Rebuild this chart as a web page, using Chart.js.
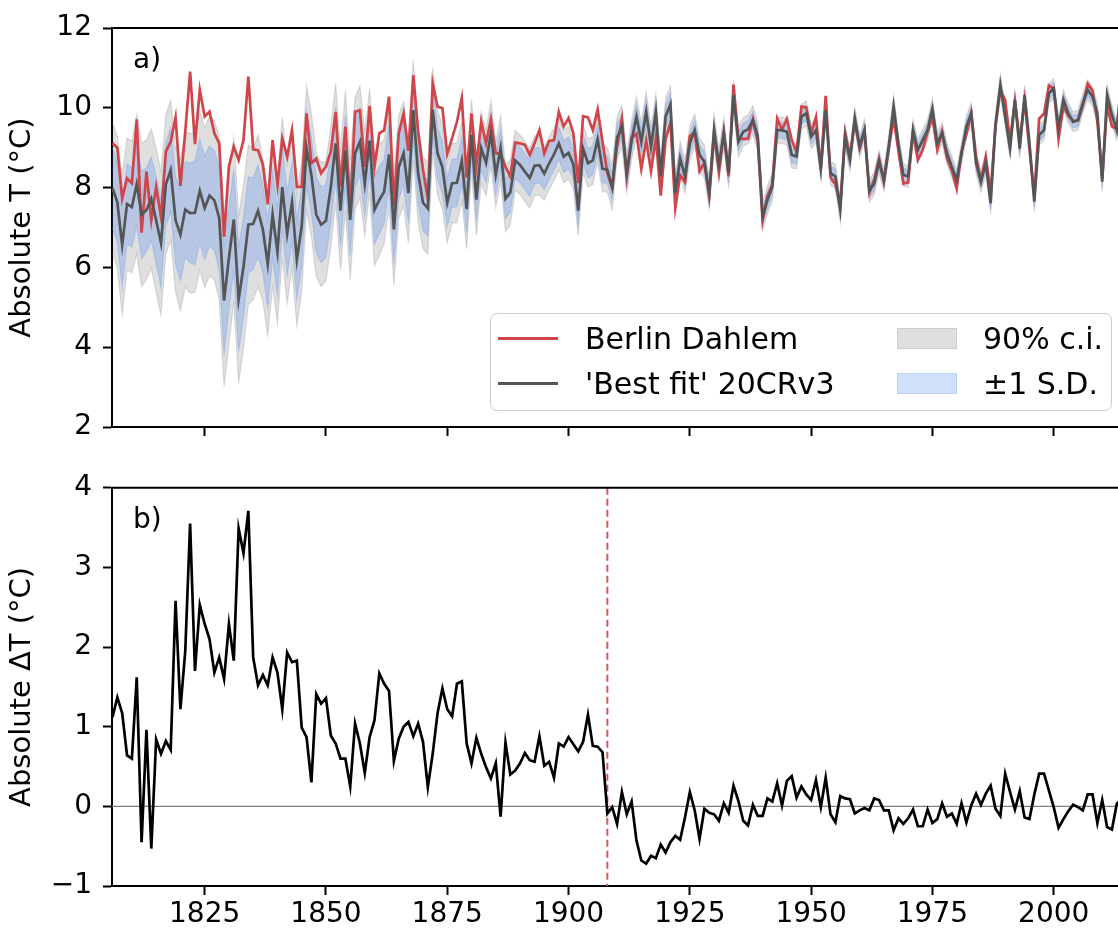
<!DOCTYPE html>
<html>
<head>
<meta charset="utf-8">
<script src="https://cdn.jsdelivr.net/npm/chart.js@4.4.0/dist/chart.umd.min.js"></script>
<style>
  html, body { margin: 0; padding: 0; background: #fff; }
  body { width: 1118px; height: 933px; position: relative; overflow: hidden; font-family: "DejaVu Sans", sans-serif; }
  .panel { position: absolute; left: 0; }
  #topWrap { top: 0; }
  #bottomWrap { top: 460px; }
  #legend {
    position: absolute; left: 490px; top: 313px; width: 622px; height: 98px;
    box-sizing: border-box; border: 1.5px solid #cccccc; border-radius: 7px;
    background: rgba(255, 255, 255, 0.8);
  }
  #legend .hline { position: absolute; left: 7px; width: 60px; height: 2.5px; }
  #legend .patch { position: absolute; left: 406px; width: 60px; height: 21px; box-sizing: border-box; border: 1.5px solid; }
  #legend .ltext { position: absolute; font-size: 30px; line-height: 34px; color: #000; white-space: nowrap; }
</style>
</head>
<body>
<div class="panel" id="topWrap"><canvas id="topChart" width="1118" height="460"></canvas></div>
<div class="panel" id="bottomWrap"><canvas id="bottomChart" width="1118" height="473"></canvas></div>
<div id="legend">
  <span class="hline" style="top:23px; background:#d0454a"></span>
  <span class="ltext" style="left:94px; top:8px">Berlin Dahlem</span>
  <span class="hline" style="top:68px; background:#555555"></span>
  <span class="ltext" style="left:94px; top:53px">'Best fit' 20CRv3</span>
  <span class="patch" style="top:14px; background:rgba(128,128,128,0.25); border-color:rgba(128,128,128,0.2)"></span>
  <span class="ltext" style="left:492px; top:8px">90% c.i.</span>
  <span class="patch" style="top:59px; background:rgba(100,149,237,0.3); border-color:rgba(100,149,237,0.2)"></span>
  <span class="ltext" style="left:492px; top:53px">±1 S.D.</span>
</div>
<script>
// annual means, one value per year starting at firstYear
const firstYear = 1806;

// Berlin Dahlem station (°C)
const berlin = [
  9.11, 9.00, 7.73, 8.23,
  8.11, 9.71, 6.87, 8.40, 7.19, 8.02, 7.27, 8.90, 9.15, 9.76,
  8.04, 9.40, 10.91, 9.09, 10.45, 9.78, 9.90, 9.36, 9.11, 6.77,
  8.53, 9.03, 8.69, 9.19, 10.78, 8.96, 8.94, 8.57, 7.58, 9.19,
  8.07, 9.23, 8.77, 9.44, 8.02, 8.02, 9.86, 8.61, 8.73, 8.36,
  8.53, 8.90, 9.90, 8.02, 9.53, 7.44, 9.90, 9.94, 8.52, 10.05,
  8.52, 9.36, 9.44, 10.28, 7.55, 9.36, 9.86, 8.92, 10.82, 9.40,
  8.45, 7.72, 10.61, 10.03, 9.99, 8.84, 9.24, 9.65, 10.24, 8.25,
  9.86, 8.56, 9.65, 9.11, 9.71, 8.86, 8.86, 8.52, 8.28, 9.13,
  9.11, 9.07, 8.82, 9.11, 9.44, 8.86, 9.17, 9.19, 9.90, 9.53,
  9.74, 9.36, 8.11, 9.79, 9.76, 9.44, 9.96, 9.15, 8.36, 7.99,
  9.03, 9.71, 8.26, 9.25, 9.35, 8.47, 9.18, 8.41, 9.25, 7.80,
  9.20, 9.64, 7.49, 8.31, 8.14, 9.29, 9.39, 8.41, 8.62, 7.78,
  9.34, 8.39, 9.40, 8.28, 10.58, 9.22, 9.22, 9.22, 9.71, 9.16,
  7.17, 7.79, 8.08, 9.73, 9.45, 9.72, 9.20, 8.89, 10.03, 10.01,
  9.36, 9.77, 8.47, 10.30, 8.26, 8.08, 7.57, 9.38, 8.78, 9.65,
  8.98, 9.42, 7.87, 8.20, 8.73, 8.14, 8.98, 9.73, 8.92, 8.10,
  8.13, 9.40, 8.69, 8.94, 9.40, 9.76, 8.95, 9.40, 8.73, 8.43,
  7.97, 8.90, 9.33, 9.87, 8.77, 8.17, 8.77, 7.87, 9.54, 10.45,
  10.19, 9.16, 10.16, 9.17, 10.18, 8.95, 7.80, 9.73, 9.85, 10.56,
  10.48, 9.22, 10.04, 9.80, 9.67, 9.68, 10.06, 10.60, 10.43, 9.65,
  8.23, 10.06, 9.53, 9.47, 10.70
];

// 'Best fit' 20CRv3 (°C)
const bestFit = [
  7.99, 7.63, 6.56, 7.59,
  7.51, 8.09, 7.32, 7.44, 7.72, 7.18, 6.61, 8.08, 8.44, 7.18,
  6.82, 7.45, 7.36, 7.37, 7.92, 7.49, 7.80, 7.68, 7.24, 5.17,
  6.24, 7.20, 5.20, 6.01, 7.07, 7.09, 7.42, 6.95, 6.08, 7.32,
  6.39, 8.01, 6.84, 7.63, 6.19, 7.03, 8.99, 8.31, 7.32, 7.07,
  7.17, 8.01, 9.11, 7.42, 8.93, 7.19, 8.86, 9.15, 8.10, 9.18,
  7.44, 7.69, 7.90, 8.83, 6.95, 8.51, 8.86, 7.86, 9.94, 8.36,
  7.62, 7.48, 9.95, 8.86, 8.51, 7.62, 8.11, 8.12, 8.67, 7.46,
  9.32, 7.70, 8.99, 8.62, 9.36, 8.32, 8.99, 7.72, 7.88, 8.68,
  8.57, 8.40, 8.24, 8.55, 8.56, 8.35, 8.61, 8.83, 9.11, 8.78,
  8.87, 8.58, 7.42, 8.98, 8.61, 8.68, 9.21, 8.47, 8.45, 8.00,
  9.25, 9.53, 8.36, 9.19, 9.78, 9.15, 9.90, 9.03, 9.90, 8.28,
  9.78, 10.09, 7.86, 8.73, 8.28, 9.11, 9.44, 8.82, 8.65, 7.86,
  9.44, 8.57, 9.36, 8.36, 10.32, 9.15, 9.40, 9.46, 9.69, 9.28,
  7.29, 7.69, 8.02, 9.44, 9.44, 9.40, 8.82, 8.78, 9.78, 9.86,
  9.28, 9.44, 8.48, 9.94, 8.36, 8.28, 7.44, 9.28, 8.69, 9.74,
  9.03, 9.44, 7.92, 8.10, 8.65, 8.19, 9.03, 10.03, 9.07, 8.32,
  8.28, 9.44, 8.94, 9.19, 9.44, 9.97, 9.11, 9.36, 8.86, 8.52,
  8.19, 8.86, 9.53, 9.86, 8.61, 8.15, 8.61, 7.61, 9.57, 10.57,
  9.78, 8.98, 10.20, 8.98, 10.32, 9.11, 7.65, 9.32, 9.44, 10.36,
  10.49, 9.49, 10.20, 9.86, 9.65, 9.69, 10.11, 10.45, 10.28, 9.86,
  8.15, 10.32, 9.82, 9.44, 10.60
];

// half width of the ±1 S.D. band (°C)
const sdHalf = [
  1.00, 1.00, 1.05, 1.00,
  1.00, 1.05, 1.10, 1.05, 1.05, 1.10, 1.10, 1.05, 1.05, 1.10,
  1.15, 1.20, 1.25, 1.30, 1.30, 1.30, 1.25, 1.25, 1.30, 1.35,
  1.30, 1.25, 1.30, 1.25, 1.20, 1.15, 1.15, 1.10, 1.10, 1.10,
  1.10, 1.05, 1.05, 1.00, 1.00, 1.00, 0.95, 0.95, 0.95, 0.95,
  0.90, 0.90, 0.90, 0.90, 0.90, 0.90, 0.85, 0.85, 0.80, 0.80,
  0.85, 0.85, 0.80, 0.80, 0.85, 0.80, 0.80, 0.75, 0.75, 0.75,
  0.70, 0.70, 0.65, 0.65, 0.65, 0.60, 0.60, 0.60, 0.60, 0.60,
  0.55, 0.55, 0.55, 0.50, 0.50, 0.50, 0.50, 0.50, 0.50, 0.45,
  0.45, 0.45, 0.45, 0.45, 0.45, 0.40, 0.40, 0.40, 0.40, 0.40,
  0.40, 0.38, 0.38, 0.36, 0.36, 0.36, 0.35, 0.35, 0.34, 0.34,
  0.32, 0.32, 0.30, 0.30, 0.30, 0.30, 0.30, 0.30, 0.28, 0.28,
  0.28, 0.27, 0.27, 0.26, 0.26, 0.26, 0.25, 0.25, 0.25, 0.24,
  0.24, 0.24, 0.23, 0.23, 0.23, 0.23, 0.22, 0.22, 0.22, 0.22,
  0.22, 0.21, 0.21, 0.20, 0.20, 0.20, 0.20, 0.19, 0.19, 0.19,
  0.19, 0.19, 0.18, 0.18, 0.18, 0.18, 0.18, 0.18, 0.17, 0.17,
  0.17, 0.17, 0.17, 0.17, 0.17, 0.17, 0.17, 0.17, 0.17, 0.17,
  0.16, 0.16, 0.16, 0.16, 0.16, 0.16, 0.16, 0.16, 0.16, 0.16,
  0.16, 0.16, 0.16, 0.16, 0.16, 0.16, 0.16, 0.16, 0.16, 0.16,
  0.15, 0.15, 0.15, 0.15, 0.15, 0.15, 0.15, 0.15, 0.15, 0.15,
  0.15, 0.15, 0.15, 0.15, 0.15, 0.15, 0.15, 0.15, 0.15, 0.15,
  0.15, 0.15, 0.15, 0.15, 0.15
];

// half width of the 90% confidence interval (°C)
const ciHalf = [
  1.65, 1.65, 1.75, 1.65,
  1.65, 1.75, 1.80, 1.75, 1.75, 1.80, 1.80, 1.75, 1.75, 1.80,
  1.90, 1.95, 2.00, 2.00, 2.00, 2.00, 2.00, 2.00, 2.05, 2.15,
  2.15, 2.05, 2.10, 2.05, 2.00, 1.90, 1.90, 1.80, 1.80, 1.80,
  1.80, 1.75, 1.75, 1.65, 1.65, 1.65, 1.55, 1.55, 1.55, 1.55,
  1.50, 1.50, 1.50, 1.50, 1.50, 1.50, 1.40, 1.40, 1.30, 1.30,
  1.40, 1.40, 1.30, 1.30, 1.40, 1.30, 1.30, 1.25, 1.25, 1.25,
  1.15, 1.15, 1.05, 1.05, 1.05, 1.00, 1.00, 1.00, 1.00, 1.00,
  0.90, 0.90, 0.90, 0.82, 0.82, 0.82, 0.82, 0.82, 0.82, 0.75,
  0.75, 0.75, 0.75, 0.75, 0.75, 0.66, 0.66, 0.66, 0.66, 0.66,
  0.66, 0.62, 0.62, 0.60, 0.60, 0.60, 0.58, 0.58, 0.56, 0.56,
  0.53, 0.53, 0.50, 0.50, 0.50, 0.50, 0.50, 0.50, 0.46, 0.46,
  0.46, 0.45, 0.45, 0.43, 0.43, 0.43, 0.41, 0.41, 0.41, 0.40,
  0.40, 0.40, 0.38, 0.38, 0.38, 0.38, 0.36, 0.36, 0.36, 0.36,
  0.36, 0.35, 0.35, 0.33, 0.33, 0.33, 0.33, 0.31, 0.31, 0.31,
  0.31, 0.31, 0.30, 0.30, 0.30, 0.30, 0.30, 0.30, 0.28, 0.28,
  0.28, 0.28, 0.28, 0.28, 0.28, 0.28, 0.28, 0.28, 0.28, 0.28,
  0.27, 0.27, 0.27, 0.27, 0.27, 0.27, 0.27, 0.27, 0.27, 0.27,
  0.27, 0.27, 0.27, 0.27, 0.27, 0.27, 0.27, 0.27, 0.27, 0.27,
  0.25, 0.25, 0.25, 0.25, 0.25, 0.25, 0.25, 0.25, 0.25, 0.25,
  0.25, 0.25, 0.25, 0.25, 0.25, 0.25, 0.25, 0.25, 0.25, 0.25,
  0.25, 0.25, 0.25, 0.25, 0.25
];

// Berlin minus best fit (°C)
const deltaT = [
  1.12, 1.37, 1.17, 0.64,
  0.60, 1.62, -0.45, 0.96, -0.53, 0.84, 0.66, 0.82, 0.71, 2.58,
  1.22, 1.95, 3.55, 1.70, 2.53, 2.29, 2.10, 1.68, 1.87, 1.60,
  2.29, 1.83, 3.49, 3.18, 3.71, 1.87, 1.52, 1.65, 1.52, 1.87,
  1.68, 1.22, 1.93, 1.81, 1.83, 0.99, 0.87, 0.30, 1.41, 1.29,
  1.36, 0.89, 0.79, 0.60, 0.60, 0.25, 1.04, 0.79, 0.42, 0.87,
  1.08, 1.67, 1.54, 1.45, 0.57, 0.85, 1.00, 1.06, 0.88, 1.04,
  0.81, 0.24, 0.66, 1.17, 1.48, 1.22, 1.13, 1.54, 1.57, 0.79,
  0.54, 0.86, 0.66, 0.49, 0.35, 0.54, -0.13, 0.80, 0.40, 0.45,
  0.54, 0.67, 0.58, 0.56, 0.88, 0.51, 0.56, 0.36, 0.79, 0.75,
  0.87, 0.78, 0.69, 0.81, 1.15, 0.76, 0.75, 0.68, -0.09, -0.01,
  -0.22, 0.18, -0.10, 0.06, -0.43, -0.68, -0.72, -0.62, -0.65, -0.48,
  -0.58, -0.45, -0.37, -0.42, -0.14, 0.18, -0.05, -0.41, -0.03, -0.08,
  -0.10, -0.18, 0.04, -0.08, 0.26, 0.07, -0.18, -0.24, 0.02, -0.12,
  -0.12, 0.10, 0.06, 0.29, 0.01, 0.32, 0.38, 0.11, 0.25, 0.15,
  0.08, 0.33, -0.01, 0.36, -0.10, -0.20, 0.13, 0.10, 0.09, -0.09,
  -0.05, -0.02, -0.05, 0.10, 0.08, -0.05, -0.05, -0.30, -0.15, -0.22,
  -0.15, -0.04, -0.25, -0.25, -0.04, -0.21, -0.16, 0.04, -0.13, -0.09,
  -0.22, 0.04, -0.20, 0.01, 0.16, 0.02, 0.16, 0.26, -0.03, -0.12,
  0.41, 0.18, -0.04, 0.19, -0.14, -0.16, 0.15, 0.41, 0.41, 0.20,
  -0.01, -0.27, -0.16, -0.06, 0.02, -0.01, -0.05, 0.15, 0.15, -0.21,
  0.08, -0.26, -0.29, 0.03, 0.10
];

const yearTicks = [1825, 1850, 1875, 1900, 1925, 1950, 1975, 2000];
const tempTicks = [2, 4, 6, 8, 10, 12];
const deltaTicks = [-1, 0, 1, 2, 3, 4];
const breakYear = 1908;
const xMin = 1805.9, xMax = 2013.25;

const years = berlin.map((_, i) => firstYear + i);
const toPoints = arr => arr.map((v, i) => ({ x: years[i], y: v }));
const ciUpper = bestFit.map((v, i) => v + ciHalf[i]);
const ciLower = bestFit.map((v, i) => v - ciHalf[i]);
const sdUpper = bestFit.map((v, i) => v + sdHalf[i]);
const sdLower = bestFit.map((v, i) => v - sdHalf[i]);

const FONT = '"DejaVu Sans", sans-serif';
const minus = v => (v < 0 ? '\u2212' + Math.abs(v) : String(v));

// box edges that Chart.js has no axis for, panel letter
const framePlugin = {
  id: 'frame',
  afterDraw(chart, args, opts) {
    const { ctx, chartArea: a } = chart;
    ctx.save();
    ctx.strokeStyle = '#000';
    ctx.lineWidth = 2;
    ctx.beginPath();
    ctx.moveTo(a.left, a.top);
    ctx.lineTo(a.right, a.top);
    ctx.stroke();
    ctx.fillStyle = '#000';
    ctx.font = '28px ' + FONT;
    ctx.textBaseline = 'alphabetic';
    ctx.fillText(opts.label, a.left + 21, a.top + 40);
    ctx.restore();
  }
};

// zero line and the dashed break year in panel b
const refLines = {
  id: 'refLines',
  beforeDatasetsDraw(chart) {
    const { ctx, chartArea: a, scales } = chart;
    const y0 = scales.y.getPixelForValue(0);
    ctx.save();
    ctx.strokeStyle = '#7f7f7f';
    ctx.lineWidth = 1.2;
    ctx.beginPath();
    ctx.moveTo(a.left, y0);
    ctx.lineTo(a.right, y0);
    ctx.stroke();
    const xb = scales.x.getPixelForValue(breakYear);
    ctx.strokeStyle = '#d9585c';
    ctx.lineWidth = 2;
    ctx.setLineDash([7, 4]);
    ctx.beginPath();
    ctx.moveTo(xb, a.top);
    ctx.lineTo(xb, a.bottom);
    ctx.stroke();
    ctx.restore();
  }
};

function yAxis(min, max, ticks, title) {
  return {
    min: min, max: max,
    afterFit: s => { s.width = 112; },
    afterBuildTicks: s => { s.ticks = ticks.map(v => ({ value: v })); },
    ticks: { font: { family: FONT, size: 28 }, color: '#000', padding: 11, callback: v => minus(v) },
    grid: { drawOnChartArea: false, drawTicks: true, tickLength: 9, tickWidth: 2, tickColor: '#000' },
    border: { display: true, color: '#000', width: 2 },
    title: { display: true, text: title, color: '#000', font: { family: FONT, size: 29 }, padding: { top: 5, bottom: 0 } }
  };
}

function xAxis(height, showLabels) {
  return {
    type: 'linear', min: xMin, max: xMax,
    afterFit: s => { s.height = height; },
    afterBuildTicks: s => { s.ticks = yearTicks.map(v => ({ value: v })); },
    ticks: {
      display: showLabels, font: { family: FONT, size: 28 }, color: '#000',
      padding: 3, maxRotation: 0, autoSkip: false, callback: v => String(v)
    },
    grid: { drawOnChartArea: false, drawTicks: true, tickLength: 9, tickWidth: 2, tickColor: '#000' },
    border: { display: true, color: '#000', width: 2 }
  };
}

const common = {
  responsive: false,
  animation: false,
  events: [],
  plugins: { legend: { display: false }, tooltip: { enabled: false } },
  elements: { point: { radius: 0 }, line: { tension: 0 } }
};

new Chart(document.getElementById('topChart'), {
  type: 'line',
  data: {
    datasets: [
      { data: toPoints(bestFit), borderColor: '#555555', borderWidth: 2.7, fill: false },
      { data: toPoints(berlin), borderColor: '#d0454a', borderWidth: 2.7, fill: false },
      { data: toPoints(sdUpper), borderColor: 'rgba(100,149,237,0.3)', borderWidth: 1.2,
        backgroundColor: 'rgba(100,149,237,0.33)', fill: '+1' },
      { data: toPoints(sdLower), borderColor: 'rgba(100,149,237,0.3)', borderWidth: 1.2, fill: false },
      { data: toPoints(ciUpper), borderColor: 'rgba(128,128,128,0.25)', borderWidth: 1.2,
        backgroundColor: 'rgba(128,128,128,0.25)', fill: '+1' },
      { data: toPoints(ciLower), borderColor: 'rgba(128,128,128,0.25)', borderWidth: 1.2, fill: false }
    ]
  },
  options: Object.assign({}, common, {
    layout: { padding: { top: 28, left: 0, right: 0, bottom: 0 } },
    scales: { x: xAxis(33, false), y: yAxis(2, 12, tempTicks, 'Absolute T (°C)') },
    plugins: Object.assign({}, common.plugins, { frame: { label: 'a)' } })
  }),
  plugins: [framePlugin]
});

new Chart(document.getElementById('bottomChart'), {
  type: 'line',
  data: {
    datasets: [
      { data: toPoints(deltaT), borderColor: '#000000', borderWidth: 2.7, fill: false }
    ]
  },
  options: Object.assign({}, common, {
    layout: { padding: { top: 27, left: 0, right: 0, bottom: 0 } },
    scales: { x: xAxis(47, true), y: yAxis(-1, 4, deltaTicks, 'Absolute \u0394T (°C)') },
    plugins: Object.assign({}, common.plugins, { frame: { label: 'b)' } })
  }),
  plugins: [refLines, framePlugin]
});
</script>
</body>
</html>
